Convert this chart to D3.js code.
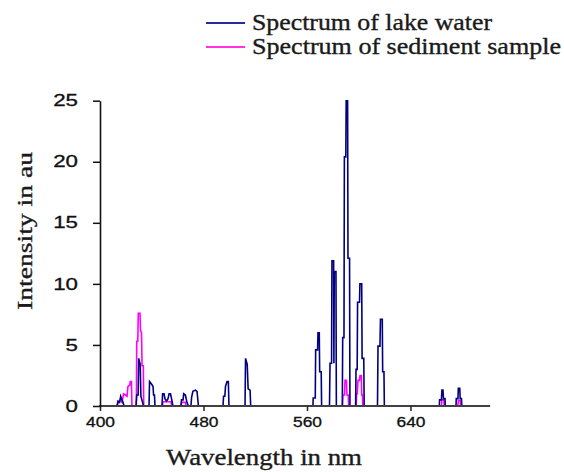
<!DOCTYPE html>
<html>
<head>
<meta charset="utf-8">
<script src="https://cdn.jsdelivr.net/npm/d3@7"></script>
<style>
  html, body { margin: 0; padding: 0; background: #fff; }
  svg { display: block; }
  .serif { font-family: "Liberation Serif", "Times New Roman", Times, serif; }
  .sans { font-family: "Liberation Sans", Arial, Helvetica, sans-serif; }
</style>
</head>
<body>
<svg id="chart" width="564" height="472"></svg>
<script>
// ---- data ----
const seriesNames = ["Spectrum of lake water", "Spectrum of sediment sample"];
const xTickValues = [400, 480, 560, 640];
const yTickValues = [0, 5, 10, 15, 20, 25];

const lakeWavelength = [
  413.1, 413.9, 415.1, 416.0, 417.0, 417.8, 418.6,
  427.8, 428.4, 429.5, 429.9, 431.1, 431.6, 432.9, 433.6,
  437.9, 438.3, 439.8, 441.0, 441.4, 442.1, 442.5,
  447.9, 448.4, 449.5, 450.2, 451.4, 452.6, 453.4, 454.5, 455.3, 456.4,
  462.6, 463.0, 464.2, 464.7, 466.0, 467.2, 468.4,
  470.3, 470.8, 471.8, 473.8, 475.0, 476.1,
  495.1, 495.5, 496.5, 497.0, 498.2, 499.2, 499.7,
  512.1, 512.5, 513.8, 514.5, 516.0, 516.5,
  564.6, 564.8, 566.4, 566.7, 568.2, 568.5, 569.5, 569.8, 571.0, 571.3,
  577.4, 577.8, 579.0, 579.3, 580.6, 580.8, 581.1, 582.4, 582.7,
  587.3, 587.6, 588.6, 588.9, 590.0, 590.3, 591.4, 591.7, 592.9, 593.2,
  597.6, 597.9, 598.8, 599.1, 600.6, 600.9, 602.3, 602.6, 603.9, 604.2,
  614.5, 614.9, 616.4, 616.8, 618.2, 618.5, 619.5, 619.8,
  662.3, 662.5, 663.9, 664.3, 665.1, 665.5, 666.7, 666.9,
  675.2, 675.4, 676.7, 677.0, 678.1, 678.4, 679.4, 679.7
];
const lakeIntensity = [
  0, 0.4, 0.3, 0.8, 0.5, 0.3, 0,
  0, 0.9, 0.9, 3.9, 3.4, 0.8, 0.3, 0,
  0, 2.0, 1.8, 1.6, 0.9, 0.9, 0,
  0, 1.0, 1.0, 0.6, 0.4, 0.6, 1.0, 1.0, 0.6, 0,
  0, 0.5, 0.5, 1.0, 0.9, 0.3, 0,
  0, 0.7, 1.2, 1.3, 1.2, 0,
  0, 0.8, 0.8, 1.6, 2.0, 2.0, 0,
  0, 3.9, 3.4, 1.4, 1.3, 0,
  0, 0.65, 0.65, 4.6, 4.6, 6.0, 6.0, 2.8, 2.8, 0,
  0, 3.5, 3.5, 11.9, 11.9, 3.5, 11.0, 11.0, 0,
  0, 5.6, 5.6, 20.4, 20.4, 25.0, 25.0, 12.1, 12.1, 0,
  0, 3.0, 3.0, 8.5, 8.5, 10.0, 10.0, 3.9, 3.9, 0,
  0, 4.9, 4.9, 7.1, 7.1, 2.8, 2.8, 0,
  0, 0.5, 0.5, 1.3, 1.3, 0.6, 0.6, 0,
  0, 0.6, 0.6, 1.45, 1.45, 0.6, 0.6, 0
];

const sedimentWavelength = [
  413.5, 413.9, 415.5, 417.0, 418.2, 419.7, 420.9, 421.6, 423.0, 423.4, 424.3, 424.7,
  428.1, 428.4, 429.2, 429.6, 430.9, 431.3, 432.1, 432.5, 433.5, 433.8,
  448.3, 448.7, 454.9, 455.3,
  462.6, 463.0, 466.1, 466.5,
  587.4, 587.8, 589.0, 589.4, 590.5, 590.9, 591.9, 592.2,
  598.1, 598.3, 598.9, 599.4, 600.6, 601.0, 602.0, 602.3, 602.9, 603.1,
  663.9, 664.3, 665.8, 666.1,
  676.6, 677.0, 678.4, 678.7
];
const sedimentIntensity = [
  0, 0.3, 0.5, 0.3, 1.0, 0.9, 0.8, 1.6, 1.7, 2.0, 2.0, 0,
  0, 5.3, 5.3, 7.6, 7.6, 6.2, 6.0, 3.3, 3.3, 0,
  0, 0.35, 0.35, 0,
  0, 0.3, 0.3, 0,
  0, 0.9, 0.9, 2.1, 2.1, 0.9, 0.9, 0,
  0, 1.0, 1.0, 2.1, 2.1, 2.5, 2.5, 0.9, 0.9, 0,
  0, 0.5, 0.5, 0,
  0, 0.45, 0.45, 0
];

const lakeColor = "#000080";
const sedimentColor = "#ff00ff";

// ---- chart ----
const svg = d3.select("#chart");
const x = d3.scaleLinear().domain([400, 700]).range([100, 488.1]);
const y = d3.scaleLinear().domain([0, 25]).range([406, 100.7]);

const line = d3.line().x(d => x(d[0])).y(d => y(d[1]));

const lakeData = lakeWavelength.map((w, i) => [w, lakeIntensity[i]]);
const sedData = sedimentWavelength.map((w, i) => [w, sedimentIntensity[i]]);

svg.append("path").datum(sedData)
  .attr("d", line).attr("fill", "none")
  .attr("stroke", sedimentColor).attr("stroke-width", 1.6).attr("stroke-linejoin", "miter");
svg.append("path").datum(lakeData)
  .attr("d", line).attr("fill", "none")
  .attr("stroke", lakeColor).attr("stroke-width", 1.6).attr("stroke-linejoin", "miter");

// axes
const xAxis = svg.append("g").attr("transform", `translate(0,${y(0)})`)
  .call(d3.axisBottom(x).tickValues(xTickValues).tickSize(5).tickSizeOuter(0).tickPadding(6));
xAxis.attr("font-family", null);
xAxis.select(".domain").attr("stroke", "#404040").attr("stroke-width", 2)
  .attr("d", `M${x(400) - 1},0H${x(700) + 2}`);
xAxis.selectAll(".tick line").attr("stroke", "#222").attr("stroke-width", 1.5);
xAxis.selectAll(".tick text")
  .attr("class", "sans")
  .attr("font-size", 14).attr("fill", "#111")
  .attr("stroke", "#111").attr("stroke-width", 0.3)
  .attr("textLength", 29).attr("lengthAdjust", "spacingAndGlyphs");

const yAxis = svg.append("g").attr("transform", `translate(${x(400)},0)`)
  .call(d3.axisLeft(y).tickValues(yTickValues).tickSize(7).tickSizeOuter(0).tickPadding(15));
yAxis.attr("font-family", null);
yAxis.select(".domain").attr("stroke", "#111").attr("stroke-width", 1.6);
yAxis.selectAll(".tick line").attr("stroke", "#111").attr("stroke-width", 1.5);
yAxis.selectAll(".tick text")
  .attr("class", "sans")
  .attr("font-size", 16).attr("fill", "#111")
  .attr("stroke", "#111").attr("stroke-width", 0.3)
  .each(function(d) {
    const s = String(d);
    d3.select(this).attr("textLength", s.length * 12.4).attr("lengthAdjust", "spacingAndGlyphs");
  });

// axis titles
svg.append("text")
  .attr("class", "serif")
  .attr("transform", `translate(32,231) rotate(-90)`)
  .attr("text-anchor", "middle")
  .attr("font-size", 22).attr("fill", "#1a1a1a")
  .attr("stroke", "#1a1a1a").attr("stroke-width", 0.35)
  .attr("textLength", 158).attr("lengthAdjust", "spacingAndGlyphs")
  .text("Intensity in au");

svg.append("text")
  .attr("class", "serif")
  .attr("x", 264).attr("y", 465)
  .attr("text-anchor", "middle")
  .attr("font-size", 23).attr("fill", "#1a1a1a")
  .attr("stroke", "#1a1a1a").attr("stroke-width", 0.35)
  .attr("textLength", 196).attr("lengthAdjust", "spacingAndGlyphs")
  .text("Wavelength in nm");

// legend
const legendWidths = [240, 309];
const legendY = [23, 47];
const legend = svg.append("g");
seriesNames.forEach((name, i) => {
  legend.append("line")
    .attr("x1", 206).attr("x2", 245)
    .attr("y1", legendY[i]).attr("y2", legendY[i])
    .attr("stroke", i === 0 ? "#2b2b9a" : "#ff33dd").attr("stroke-width", 2);
  legend.append("text")
    .attr("class", "serif")
    .attr("x", 252).attr("y", legendY[i] + 6.5)
    .attr("font-size", 23).attr("fill", "#1a1a1a")
    .attr("stroke", "#1a1a1a").attr("stroke-width", 0.35)
    .attr("textLength", legendWidths[i]).attr("lengthAdjust", "spacingAndGlyphs")
    .text(name);
});
</script>
</body>
</html>
